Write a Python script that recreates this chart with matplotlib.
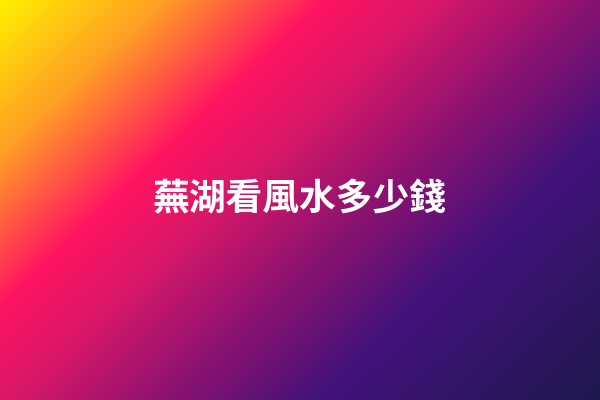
import numpy as np
import matplotlib
matplotlib.use("Agg")
import matplotlib.pyplot as plt
from matplotlib.colors import LinearSegmentedColormap

# Background gradient stops (position along diagonal, colour)
stop_positions = [0.0, 0.16, 0.317, 0.42, 0.586, 0.725, 1.0]
stop_colors = ["#FFF000", "#FF9E25", "#FF1461", "#DA1868", "#861271", "#42127A", "#1E1A4E"]
title_text = "蕪湖看風水多少錢"

W, H = 600, 400
fig = plt.figure(figsize=(6, 4), dpi=100)
ax = fig.add_axes([0, 0, 1, 1])
ax.set_axis_off()

cmap = LinearSegmentedColormap.from_list("bg", list(zip(stop_positions, stop_colors)))
xx, yy = np.meshgrid(np.arange(W) + 0.5, np.arange(H) + 0.5)
t = (xx + 1.06 * yy) / (W + 1.06 * H)
ax.imshow(t, cmap=cmap, vmin=0, vmax=1, extent=[0, W, H, 0], aspect="auto", interpolation="bilinear")
ax.set_xlim(0, W)
ax.set_ylim(H, 0)

ax.text(300, 200, title_text, color="white", fontsize=26.5, fontweight="bold",
        family=["Noto Sans CJK TC", "DejaVu Sans"], ha="center", va="center")

fig.savefig("out.png", dpi=100)
